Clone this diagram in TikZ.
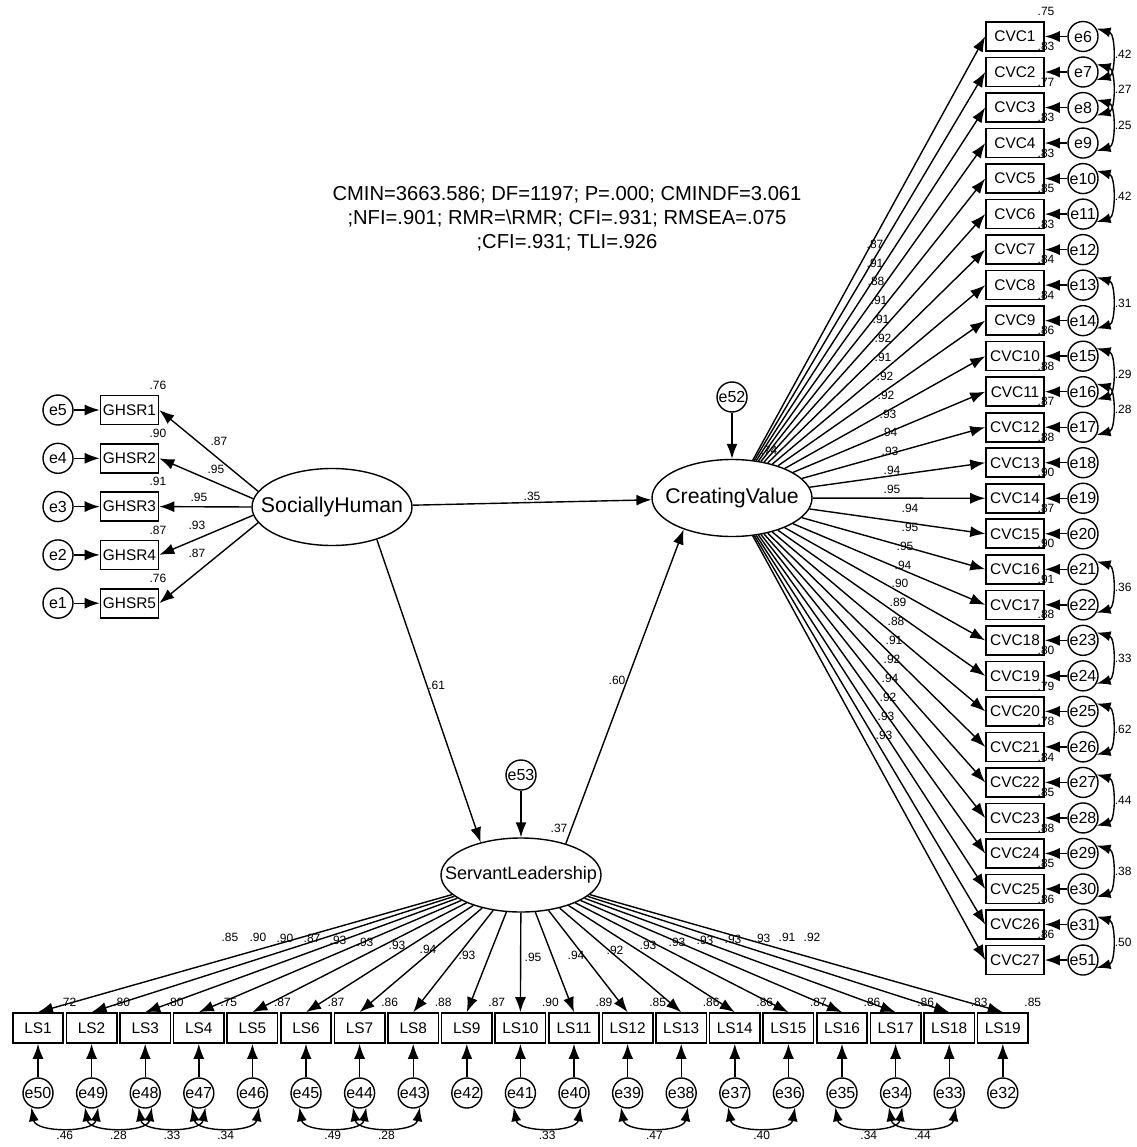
\documentclass[tikz,border=0pt]{standalone}
\usepackage{fontspec}
\setmainfont{Liberation Sans}
\usetikzlibrary{positioning,arrows.meta,shapes.geometric}

\tikzset{
  obs/.style={draw, line width=1.6pt, minimum width=58pt, minimum height=29pt, inner sep=0pt, font=\fontsize{15.4}{16}\selectfont},
  lsbox/.style={obs, minimum width=50.5pt, minimum height=30pt},
  lat/.style={ellipse, draw, line width=1.4pt, minimum width=160pt, minimum height=77pt, inner sep=0pt, font=\fontsize{21.3}{22}\selectfont},
  err/.style={circle, draw, line width=1.4pt, minimum size=30pt, inner sep=0pt, font=\fontsize{16}{16}\selectfont},
  lbl/.style={inner sep=1pt, font=\fontsize{12}{12}\selectfont},
  arr/.style={-{Latex[length=15pt,width=11pt]}, line width=1.4pt},
  cov/.style={{Latex[length=14pt,width=10pt]}-{Latex[length=14pt,width=10pt]}, line width=1.4pt}
}

\begin{document}
\begin{tikzpicture}[x=1pt,y=-1pt]
  \useasboundingbox (0,0) rectangle (1136,1147);

  \node[font=\fontsize{20.2}{24}\selectfont, align=center] (fit) at (567,219)
    {CMIN=3663.586; DF=1197; P=.000; CMINDF=3.061\\;NFI=.901; RMR=\textbackslash RMR; CFI=.931; RMSEA=.075\\;CFI=.931; TLI=.926};

  \node[lat] (SH) at (332,507) {\makebox[0pt]{SociallyHuman}};
  \node[lat] (CV) at (732,498) {\makebox[0pt]{CreatingValue}};
  \node[lat, minimum height=74pt, font=\fontsize{18.1}{19}\selectfont] (SL) at (521,875) {\makebox[0pt]{ServantLeadership}};
  \node[err] (e52) at (732,397) {e52};
  \node[err] (e53) at (521,775) {e53};
  \node[lbl] (rCV) at (769,450) {.74};
  \node[lbl] (rSL) at (559,828) {.37};

  \draw[arr] (e52) -- (CV);
  \draw[arr] (e53) -- (SL);
  \draw[arr] (SH) -- node[lbl, above] {.35} (CV);
  \draw[arr] (SH.-36) -- node[lbl, right, pos=0.48] {.61} (SL.141);
  \draw[arr] (SL.35) -- node[lbl, left, pos=0.52] {.60} (CV.-147);

  \foreach \i/\err/\ld/\lx/\rsq in {1/5/.87/219/.76, 2/4/.95/216/.90, 3/3/.95/199/.91, 4/2/.93/197/.87, 5/1/.87/197/.76}{
    \pgfmathsetmacro{\gy}{410+(\i-1)*48.3}
    \pgfmathsetmacro{\ly}{441+(\i-1)*28}
    \pgfmathtruncatemacro{\ang}{168+(\i-1)*6}
    \node[obs] (GHSR\i) at (129.5,\gy) {GHSR\i};
    \node[err] (e\err) at (58,\gy) {e\err};
    \draw[arr] (e\err) -- (GHSR\i);
    \draw[arr] (SH.\ang) -- (GHSR\i.east);
    \node[lbl] (lGHSR\i) at (\lx,\ly) {\ld};
    \node[lbl] (rGHSR\i) at (158,\gy-25) {\rsq};
  }

  \foreach \i/\err/\ld/\lx/\rsq in {1/6/.87/875/.75, 2/7/.91/875/.83, 3/8/.88/876/.77,
      4/9/.91/879/.83, 5/10/.91/881/.83, 6/11/.92/883/.85, 7/12/.91/883/.83,
      8/13/.92/885/.84, 9/14/.92/886/.84, 10/15/.93/888/.86, 11/16/.94/889/.88,
      12/17/.93/890/.87, 13/18/.94/892/.88, 14/19/.95/892/.90, 15/20/.94/910/.87,
      16/21/.95/910/.90, 17/22/.95/905/.91, 18/23/.94/903/.88, 19/24/.90/900/.80,
      20/25/.89/898/.79, 21/26/.88/896/.78, 22/27/.91/894/.84, 23/28/.92/892/.85,
      24/29/.94/890/.88, 25/30/.92/888/.85, 26/31/.93/886/.86, 27/51/.93/884/.86}{
    \pgfmathsetmacro{\cy}{36.5+(\i-1)*35.52}
    \pgfmathsetmacro{\ly}{244+(\i-1)*18.88}
    \pgfmathsetmacro{\ry}{\cy-25.5}
    \node[obs] (CVC\i) at (1015,\cy) {CVC\i};
    \node[err] (e\err) at (1083,\cy) {e\err};
    \draw[arr] (e\err) -- (CVC\i);
    \draw[arr] (CV) -- (CVC\i.west);
    \node[lbl] (lCVC\i) at (\lx,\ly) {\ld};
    \node[lbl] (rCVC\i) at (1046,\ry) {\rsq};
  }

  \foreach \i/\err/\ld/\lx/\ly/\rsq in {1/50/.85/230/937/.72, 2/49/.90/258/937/.80,
      3/48/.90/285/938/.80, 4/47/.87/312/938/.75, 5/46/.93/338/940/.87,
      6/45/.93/365/942/.87, 7/44/.93/397/945/.86, 8/43/.94/428/949/.88,
      9/42/.93/467/955/.87, 10/41/.95/533/957/.90, 11/40/.94/576/955/.89,
      12/39/.92/615/950/.85, 13/38/.93/648/945/.86, 14/37/.93/677/942/.86,
      15/36/.93/705/940/.87, 16/35/.93/733/939/.86, 17/34/.93/762/938/.86,
      18/33/.91/787/937/.83, 19/32/.92/812/937/.85}{
    \pgfmathsetmacro{\lsx}{38+(\i-1)*53.6}
    \pgfmathsetmacro{\rx}{\lsx+30}
    \node[lsbox] (LS\i) at (\lsx,1028) {LS\i};
    \node[err] (e\err) at (\lsx,1093) {e\err};
    \draw[arr] (e\err) -- (LS\i);
    \draw[arr] (SL) -- (LS\i.north);
    \node[lbl] (lLS\i) at (\lx,\ly) {\ld};
    \node[lbl] (rLS\i) at (\rx,1002) {\rsq};
  }

  \foreach \a/\b/\c in {6/7/.42, 7/8/.27, 8/9/.25, 10/11/.42, 13/14/.31, 15/16/.29, 16/17/.28,
      21/22/.36, 23/24/.33, 25/26/.62, 27/28/.44, 29/30/.38, 31/51/.50}
    \draw[cov] (e\a.30) to[bend left=75] node[lbl, right=2pt] (c\a) {\c} (e\b.-30);

  \foreach \a/\b/\c in {50/49/.46, 49/48/.28, 48/47/.33, 47/46/.34, 45/44/.49, 44/43/.28,
      41/40/.33, 39/38/.47, 37/36/.40, 35/34/.34, 34/33/.44}
    \draw[cov] (e\a.-115) to[bend right=80] node[lbl, below=3pt] (c\a) {\c} (e\b.-65);
\end{tikzpicture}
\end{document}
